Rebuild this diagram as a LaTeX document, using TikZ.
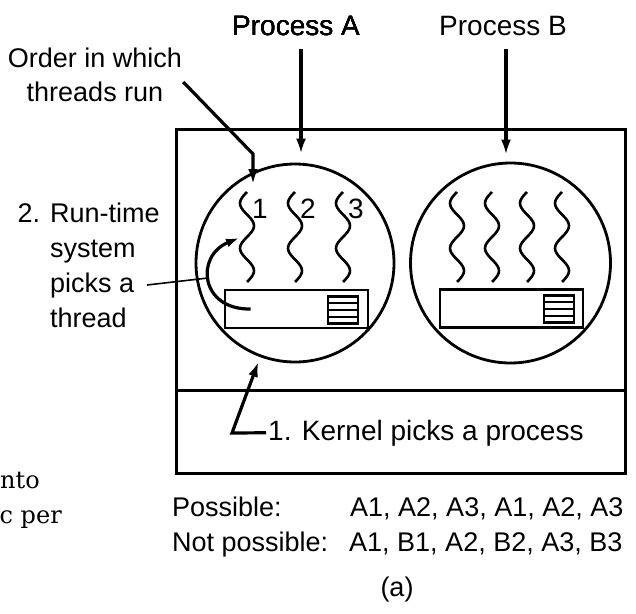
\documentclass[tikz,border=0pt]{standalone}
\usepackage{fontspec}
\setmainfont{Liberation Sans}
\newfontfamily\cutfont{DejaVu Serif}
\usetikzlibrary{arrows.meta, calc, positioning}
\newcommand\lblfont{\fontsize{28}{34}\selectfont}
\newcommand\txtfont{\fontsize{27}{35}\selectfont}
% one wavy thread, top at y=192
\newcommand\thread[1]{\draw[wave] plot[smooth, domain=0:1, samples=41] ({#1-7*sin(720*\x)}, {192+90*\x});}
\tikzset{
	frame/.style={draw=black, line width=3pt},
	proc/.style ={circle, draw=black, line width=2.8pt, minimum size=198pt, inner sep=0pt},
	rts/.style  ={rectangle, draw=black, line width=2.6pt, minimum width=143pt, minimum height=38pt, inner sep=0pt},
	tbl/.style  ={rectangle, draw=black, line width=2.4pt, minimum width=30pt, minimum height=27pt, inner sep=0pt},
	lbl/.style  ={inner sep=0pt, font=\lblfont},
	txt/.style  ={inner sep=0pt, font=\txtfont},
	ptr/.style  ={-{Latex[length=15pt,width=10pt]}, line width=3.2pt},
	wave/.style ={line width=2.6pt},
}
\begin{document}
\begin{tikzpicture}[x=1pt, y=-1pt]
	\useasboundingbox (0,0) rectangle (636,613);
	% user space above, kernel below
	\draw[frame] (176,129) rectangle (625,473);
	\draw[frame] (176,390) -- (625,390);
	% the two processes
	\node[proc] (procA) at (295,263) {};
	\node[proc, minimum size=200pt] (procB) at (510.5,263) {};
	\node[rts] (rtsA) at (296.5,309) {};
	\node[rts] (rtsB) at (511.5,308.5) {};
	\node[tbl] (tblA) at (343,310) {};
	\node[tbl] (tblB) at (559,309) {};
	\foreach \t in {tblA, tblB}
		\foreach \f in {0.25, 0.5, 0.75}
			\draw[line width=2.2pt] ($(\t.north west)!\f!(\t.south west)$) -- ($(\t.north east)!\f!(\t.south east)$);
	% threads
	\foreach \tx/\num in {247/1, 295/2, 343/3} {
		\thread{\tx}
		\node[lbl, anchor=base west] (num\num) at (\tx+5,218) {\num};
	}
	\foreach \tx in {457, 492, 527, 562}
		\thread{\tx}
	% labels
	\node[lbl, anchor=base] (lblA) at (296,35) {Process A};
	\node[lbl, anchor=base] (lblB) at (503,35) {Process B};
	\node[txt, align=center, font=\fontsize{27}{34}\selectfont] (order) at (95,75) {Order in which\\threads run};
	\node[txt, align=left, anchor=west] (runtime) at (50,265) {\llap{2. }Run-time\\system\\picks a\\thread};
	\node[lbl, anchor=base west] (kernel) at (268,440) {1. Kernel picks a process};
	\draw[ptr, shorten <=14pt, shorten >=9pt] ([xshift=5pt]lblA.south) -- ([xshift=5pt]lblA.south |- procA.north);
	\draw[ptr, shorten <=14pt, shorten >=7pt] ([xshift=3pt]lblB.south) -- ([xshift=3pt]lblB.south |- procB.north);
	\coordinate (orderBend) at (253,154);
	\coordinate (orderTip) at (253,184);
	\draw[ptr] ([shift={(1,7)}]order.east) -- (orderBend) -- (orderTip);
	\coordinate (kernelBend) at (232,433);
	\draw[ptr, shorten >=5pt] ([xshift=-2pt]kernel.west) -- (kernelBend) -- (procA);
	% run-time system picks a thread
	\coordinate (pickTip) at (239,238);
	\draw[ptr, -{Latex[length=13pt,width=9pt]}] ([xshift=27pt]rtsA.west) .. controls (200,310) and (195,256) .. (pickTip);
	\coordinate (pickFrom) at (147,285);
	\coordinate (pickTo) at (208,278);
	\draw[line width=1.6pt] (pickFrom) -- (pickTo);
	% sequences
	\node[txt, anchor=base west] (poss) at (172,516) {Possible:};
	\node[txt, anchor=base west] (possSeq) at (350,516) {A1, A2, A3, A1, A2, A3};
	\node[txt, anchor=base west] (notposs) at (172,551) {Not possible:};
	\node[txt, anchor=base west] (notpossSeq) at (349,551) {A1, B1, A2, B2, A3, B3};
	\node[txt, anchor=base] (caption) at (397,596) {(a)};
	% text at the left edge
	\node[inner sep=0pt, anchor=base west, font=\cutfont\fontsize{24}{30}\selectfont] (cutA) at (0,488) {nto};
	\node[inner sep=0pt, anchor=base east, font=\cutfont\fontsize{24}{30}\selectfont] (cutB) at (62,523) {c per};
\end{tikzpicture}
\end{document}
